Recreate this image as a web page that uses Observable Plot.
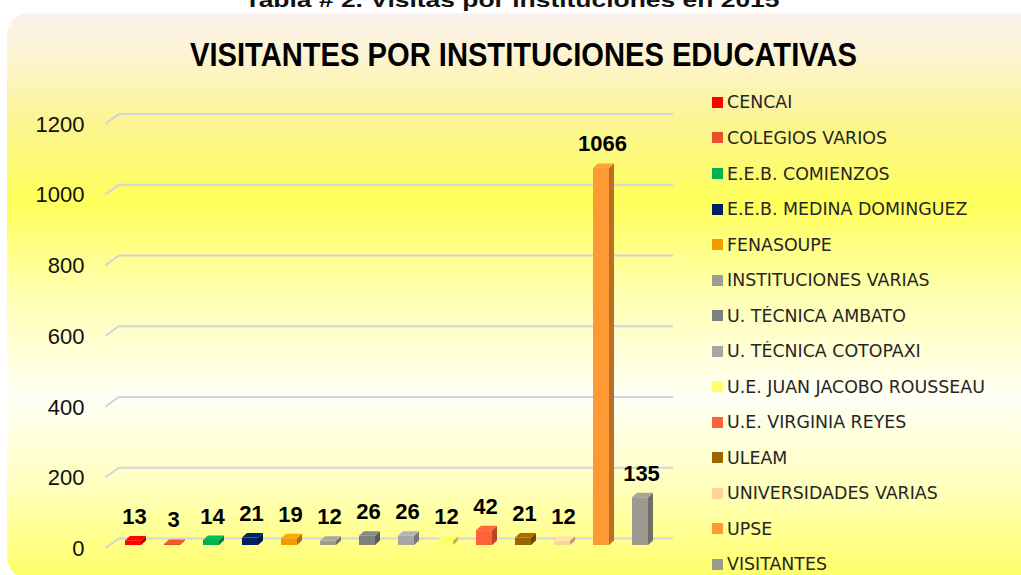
<!DOCTYPE html>
<html>
<head>
<meta charset="utf-8">
<script src="https://cdn.jsdelivr.net/npm/d3@7"></script>
<script src="https://cdn.jsdelivr.net/npm/@observablehq/plot@0.6"></script>
<style>
html, body { margin: 0; padding: 0; background: #ffffff; }
#wrap { position: relative; width: 1021px; height: 575px; overflow: hidden; }
#panel {
  position: absolute; left: 7px; top: 13px; width: 1040px; height: 566px; border-radius: 22px;
  background: linear-gradient(to bottom,
    #fcf1ee 0px, #fdf4d4 40px, #fbf591 110px, #ffff5a 190px, #ffffb0 280px,
    #fffff6 385px, #ffffc0 470px, #ffff6a 562px);
}
#chart { position: absolute; left: 0; top: 0; }
#titles { position: absolute; left: 0; top: 0; }
#legend { position: absolute; left: 712px; top: 84.7px; width: 305px; }
#legend .lg-swatches { font-family: "DejaVu Sans", sans-serif !important; font-size: 17.4px !important; color: #262626 !important; margin: 0 !important; }
#legend .lg-swatch { height: 35.54px !important; padding: 0 !important; margin: 0 !important; display: flex !important; align-items: center !important; }
#legend .lg-swatch svg { margin-right: 4px !important; }
</style>
</head>
<body>
<div id="wrap">
  <div id="panel"></div>
  <svg id="titles" width="1021" height="100">
    <text x="512" y="7" text-anchor="middle" font-family="Liberation Sans, Arial, sans-serif" font-weight="bold" font-size="21" textLength="535" lengthAdjust="spacingAndGlyphs" fill="#111">Tabla # 2. Visitas por instituciones en 2015</text>
    <text x="523.5" y="66" text-anchor="middle" font-family="Liberation Sans Narrow, Liberation Sans, Arial, sans-serif" font-weight="bold" font-size="33" textLength="667" lengthAdjust="spacingAndGlyphs" fill="#000">VISITANTES POR INSTITUCIONES EDUCATIVAS</text>
  </svg>
  <div id="chart"></div>
  <div id="legend"></div>
</div>
<script>
const categories = ["CENCAI", "COLEGIOS VARIOS", "E.E.B. COMIENZOS", "E.E.B. MEDINA DOMINGUEZ", "FENASOUPE", "INSTITUCIONES VARIAS", "U. TÉCNICA AMBATO", "U. TÉCNICA COTOPAXI", "U.E. JUAN JACOBO ROUSSEAU", "U.E. VIRGINIA REYES", "ULEAM", "UNIVERSIDADES VARIAS", "UPSE", "VISITANTES"];
const values = [13, 3, 14, 21, 19, 12, 26, 26, 12, 42, 21, 12, 1066, 135];
const colors = ["#ff0000", "#e8502b", "#00b050", "#002060", "#f39c00", "#9c9c94", "#7f7f7f", "#a6a6a6", "#ffff66", "#ff6138", "#9c6500", "#ffd59b", "#ff9933", "#9a9a8e"];
const yTicks = [0, 200, 400, 600, 800, 1000, 1200];

const rows = categories.map((name, i) => ({name, value: values[i]}));
const gridColor = "#d3d3db";

function bars3d(index, scales, vals, dims, ctx, next) {
  const g = next(index, scales, vals, dims, ctx);
  const bw = scales.x.bandwidth ? scales.x.bandwidth() : 16;
  const ddx = 5, ddy = 4.5;
  const sel = d3.select(g);
  for (const i of index) {
    const x0 = vals.x[i];
    const yT = Math.min(vals.y1[i], vals.y2[i]);
    const yB = Math.max(vals.y1[i], vals.y2[i]);
    const c = d3.color(vals.fill[i]);
    sel.append("polygon")
      .attr("points", [[x0 + bw, yT], [x0 + bw + ddx, yT - ddy], [x0 + bw + ddx, yB - ddy], [x0 + bw, yB]].join(" "))
      .attr("fill", c.darker(0.9));
    sel.append("polygon")
      .attr("points", [[x0, yT], [x0 + ddx, yT - ddy], [x0 + bw + ddx, yT - ddy], [x0 + bw, yT]].join(" "))
      .attr("fill", c.brighter(0.2));
  }
  return g;
}

function diagonals(index, scales, vals, dims) {
  const g = d3.create("svg:g");
  for (const i of index) {
    const y = vals.y[i];
    g.append("line")
      .attr("x1", dims.marginLeft - 14).attr("y1", y + 3)
      .attr("x2", dims.marginLeft).attr("y2", y - 7)
      .attr("stroke", gridColor).attr("stroke-width", 2);
  }
  return g.node();
}

const chart = Plot.plot({
  width: 1021,
  height: 575,
  marginLeft: 119.5,
  marginRight: 348,
  marginTop: 0,
  marginBottom: 0,
  style: {background: "transparent", overflow: "visible", fontFamily: "Liberation Sans, Arial, sans-serif"},
  x: {type: "band", domain: categories, range: [111, 662.5], paddingInner: 0.594, paddingOuter: 0.297, axis: null},
  y: {domain: [0, 1200], range: [545, 120.6]},
  color: {domain: categories, range: colors},
  marks: [
    Plot.ruleY(yTicks, {stroke: gridColor, strokeWidth: 2, dy: -7}),
    Plot.ruleY(yTicks, {render: diagonals}),
    Plot.axisY(yTicks, {tickSize: 0, tickPadding: 35.5, dy: 3.5, fontSize: 22, fill: "#111", label: null, tickFormat: d => String(d)}),
    Plot.barY(rows, {x: "name", y: "value", fill: "name", render: bars3d}),
    Plot.text(rows, {x: "name", y: "value", text: d => String(d.value), dy: -17, dx: 1, lineAnchor: "bottom", fontWeight: "bold", fontSize: 22, fill: "#000"})
  ]
});
document.getElementById("chart").appendChild(chart);

const legend = Plot.legend({
  color: {domain: categories, range: colors, type: "ordinal"},
  columns: 1,
  swatchSize: 11,
  className: "lg"
});
document.getElementById("legend").appendChild(legend);
</script>
</body>
</html>
